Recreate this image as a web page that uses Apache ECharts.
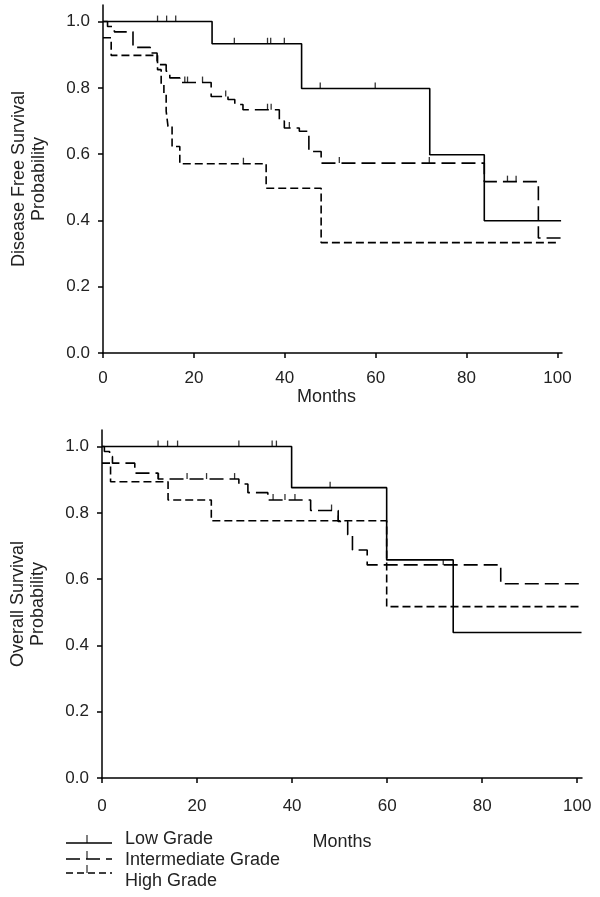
<!DOCTYPE html>
<html><head><meta charset="utf-8">
<script src="https://cdn.jsdelivr.net/npm/echarts@6/dist/echarts.min.js"></script>
<style>html,body{margin:0;padding:0;background:#fff}#c{width:600px;height:897px}</style>
</head><body><div id="c"></div>
<script>
const seriesNames = ['Low Grade', 'Intermediate Grade', 'High Grade'];
const xTickValues = [0, 20, 40, 60, 80, 100];
const yTickValues = [0, 0.2, 0.4, 0.6, 0.8, 1.0];
const xTitle = 'Months';
const yTitleTop = 'Disease Free Survival\nProbability';
const yTitleBottom = 'Overall Survival\nProbability';

// Disease free survival: [month, survival after step]
const dfsLow = [[0,1],[24,0.933],[43.7,0.798],[71.9,0.598],[83.9,0.399],[100.8,0.399]];
const dfsInter = [[0,1],[1,0.985],[2.5,0.969],[6.6,0.922],[10.4,0.905],[11.9,0.87],[13.9,0.85],[14.7,0.83],[16.9,0.816],[23.8,0.774],[27.5,0.765],[29.0,0.75],[30.8,0.734],[38.8,0.70],[39.9,0.679],[43.2,0.669],[45.3,0.608],[48.0,0.573],[83.9,0.517],[95.8,0.347],[100.7,0.347]];
const dfsHigh = [[0,0.951],[1.8,0.898],[12.0,0.855],[12.8,0.81],[13.4,0.78],[13.9,0.73],[14.3,0.684],[15.2,0.623],[16.9,0.571],[35.9,0.497],[48.0,0.333],[100,0.333]];
const dfsLowCensor = [12.0,14.0,16.0,28.9,36.2,36.9,39.9,47.8,59.9];
const dfsInterCensor = [18.0,18.6,21.9,27.0,36.2,37.0,41.0,52.0,71.8,89.0,90.9];
const dfsHighCensor = [30.9];

// Overall survival
const osLow = [[0,1],[39.9,0.876],[59.9,0.658],[73.9,0.439],[100.9,0.439]];
const osInter = [[0,1],[0.5,0.985],[1.6,0.97],[2.2,0.95],[6.9,0.92],[11.8,0.902],[28.8,0.887],[30.7,0.861],[34.9,0.839],[43.9,0.807],[49.7,0.774],[51.7,0.734],[52.7,0.688],[55.8,0.643],[83.9,0.586],[100.9,0.586]];
const osHigh = [[0,0.95],[1.8,0.894],[13.9,0.839],[23.0,0.776],[59.9,0.517],[100.9,0.517]];
const osLowCensor = [11.8,13.8,15.9,28.8,35.8,36.7,48.0];
const osInterCensor = [11.9,17.9,22.0,27.9,36.0,38.5,40.6,48.3,49.7,71.8];
const osHighCensor = [];

const lineTypes = ['solid', [14, 6], [8, 4]];
const TXT = '#222';

function valueAt(steps, t) {
  let v = steps[0][1];
  for (const s of steps) { if (s[0] <= t) v = s[1]; }
  return v;
}

function makeSeries(gi, curves, censors) {
  const out = [];
  curves.forEach((c, i) => {
    out.push({
      name: seriesNames[i], type: 'line', step: 'end', xAxisIndex: gi, yAxisIndex: gi,
      data: c, showSymbol: false, symbol: 'none', silent: true,
      lineStyle: { color: '#000', width: 1.6, type: lineTypes[i] }
    });
    out.push({
      type: 'scatter', xAxisIndex: gi, yAxisIndex: gi, silent: true,
      data: censors[i].map(t => [t, valueAt(c, t)]),
      symbol: 'rect', symbolSize: [1.3, 6], symbolOffset: [0, -3],
      itemStyle: { color: '#000' }
    });
  });
  return out;
}

function xAxis(gi, gap, pad, margin) {
  return {
    type: 'value', gridIndex: gi, min: 0, max: 101,
    name: xTitle, nameLocation: 'middle', nameGap: gap,
    nameTextStyle: { fontSize: 18, color: TXT, fontFamily: 'Liberation Sans', padding: pad },
    axisLine: { lineStyle: { color: '#000', width: 1.5 } },
    axisTick: { show: true, length: 5, lineStyle: { color: '#000', width: 1.5 }, customValues: xTickValues },
    axisLabel: { fontSize: 17, color: TXT, fontFamily: 'Liberation Sans', margin: margin, customValues: xTickValues },
    splitLine: { show: false }
  };
}
function yAxis(gi, title) {
  return {
    type: 'value', gridIndex: gi, min: 0, max: 1.05,
    name: title, nameLocation: 'middle', nameGap: 54, nameRotate: 90,
    nameTextStyle: { fontSize: 18, color: TXT, fontFamily: 'Liberation Sans', lineHeight: 20, align: 'center' },
    axisLine: { show: true, lineStyle: { color: '#000', width: 1.5 } },
    axisTick: { show: true, length: 5, lineStyle: { color: '#000', width: 1.5 }, customValues: yTickValues },
    axisLabel: { fontSize: 17, color: TXT, fontFamily: 'Liberation Sans', margin: 13,
      formatter: v => v.toFixed(1), customValues: yTickValues },
    splitLine: { show: false }
  };
}

const legendLineY = [843, 859, 873];
const legendTextY = [839, 860, 881];
const graphic = [];
seriesNames.forEach((n, i) => {
  graphic.push({ type: 'line', shape: { x1: 66, y1: legendLineY[i], x2: 112, y2: legendLineY[i] },
    style: { stroke: '#000', lineWidth: 1.5, lineDash: i === 0 ? null : (i === 1 ? [14, 6] : [7, 4]) } });
  graphic.push({ type: 'line', shape: { x1: 87, y1: legendLineY[i] - 8, x2: 87, y2: legendLineY[i] },
    style: { stroke: '#000', lineWidth: 1 } });
  graphic.push({ type: 'text', x: 125, y: legendTextY[i],
    style: { text: n, fontSize: 18, fill: TXT, fontFamily: 'Liberation Sans', verticalAlign: 'middle' } });
});

const chart = echarts.init(document.getElementById('c'), null, { renderer: 'canvas' });
chart.setOption({
  animation: false,
  backgroundColor: '#fff',
  grid: [
    { left: 103, right: 38, top: 5, bottom: 544, containLabel: false, outerBoundsMode: 'none' },
    { left: 102, right: 18, top: 430, bottom: 119, containLabel: false, outerBoundsMode: 'none' }
  ],
  xAxis: [xAxis(0, 34, [0, 12, 0, 0], 17), xAxis(1, 55, 0, 20)],
  yAxis: [yAxis(0, yTitleTop), yAxis(1, yTitleBottom)],
  graphic: graphic,
  series: [].concat(
    makeSeries(0, [dfsLow, dfsInter, dfsHigh], [dfsLowCensor, dfsInterCensor, dfsHighCensor]),
    makeSeries(1, [osLow, osInter, osHigh], [osLowCensor, osInterCensor, osHighCensor])
  )
});
</script></body></html>
